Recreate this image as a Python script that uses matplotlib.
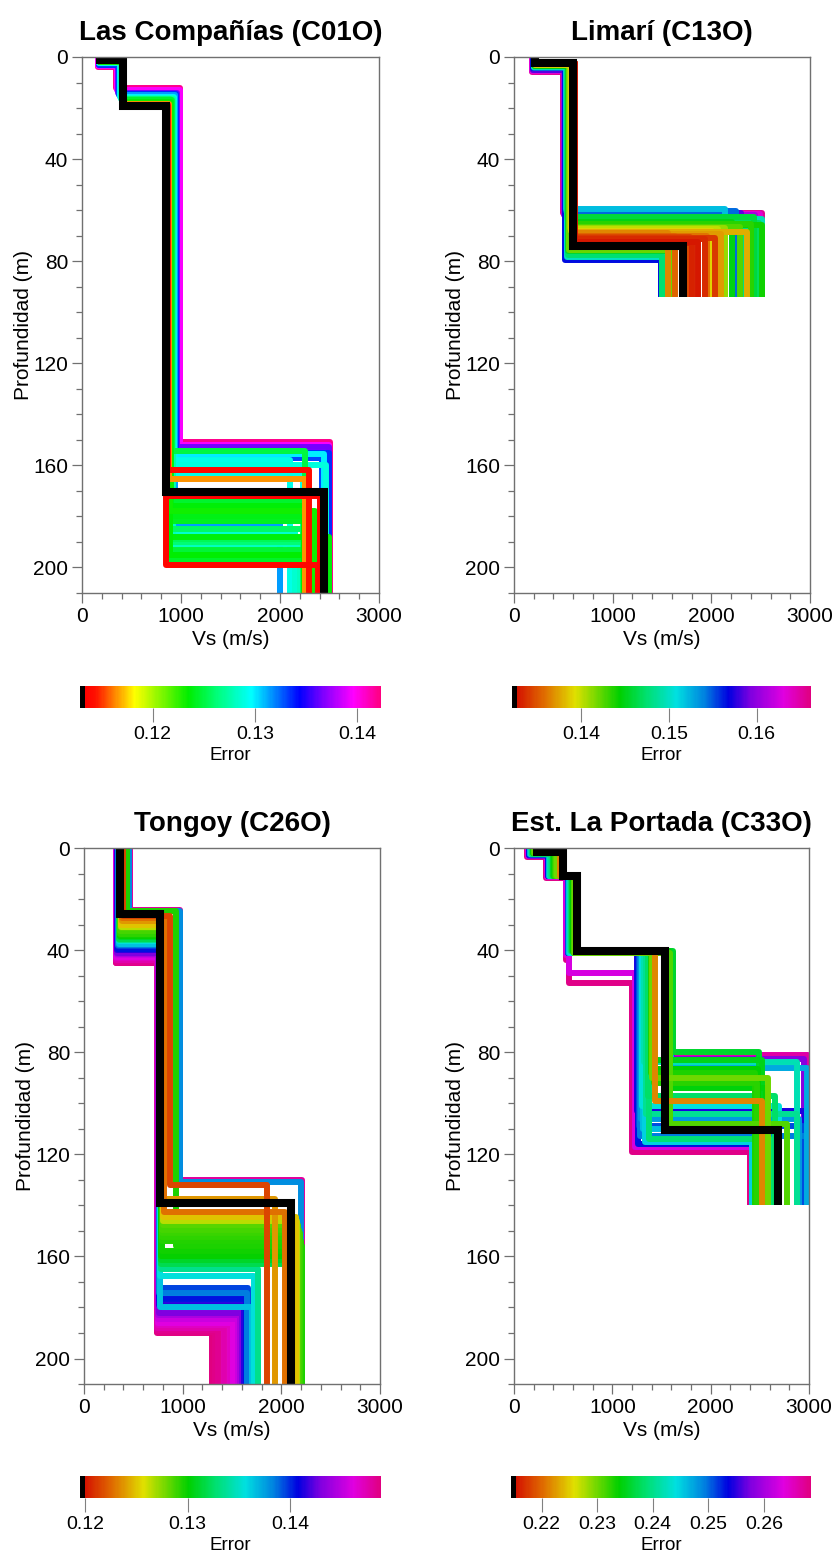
import numpy as np
import matplotlib
matplotlib.use("Agg")
import matplotlib.pyplot as plt
from matplotlib.colors import LinearSegmentedColormap, Normalize
from matplotlib.cm import ScalarMappable
from matplotlib.ticker import MultipleLocator

plt.rcParams["font.family"] = ["Liberation Sans", "DejaVu Sans"]

# ---- Las Compañías (C01O) ----
comp_err = [0.1420, 0.1395, 0.1365, 0.1335, 0.1330, 0.1315, 0.1300, 0.1292, 0.1290,
            0.1288, 0.1285, 0.1280, 0.1275, 0.1268, 0.1262, 0.1258, 0.1255, 0.1250,
            0.1248, 0.1245, 0.1244, 0.1242, 0.1240, 0.1238, 0.1236, 0.1235, 0.1232,
            0.1165, 0.1140, 0.1138, 0.1135]
comp_bottoms = [[3.8, 12.3, 151], [3.5, 13.0, 152], [3.0, 14.0, 153], [3.0, 14.5, 155, 195],
                [2.8, 15.0, 157], [2.5, 15.0, 183], [2.5, 15.5, 155.5], [2.0, 16.0, 163],
                [2.5, 16.0, 158], [2.0, 16.0, 160], [2.0, 16.0, 186], [2.0, 16.5, 191],
                [2.0, 16.5, 176], [2.0, 16.5, 194], [2.0, 16.5, 190], [2.0, 17.0, 185],
                [2.0, 17.0, 189], [2.0, 17.0, 154.5], [2.0, 17.0, 193], [2.0, 17.0, 174],
                [2.0, 17.5, 197], [2.0, 17.5, 182], [1.8, 17.5, 180], [1.8, 17.5, 188],
                [1.8, 17.5, 176], [1.8, 18.0, 195], [1.8, 18.0, 178], [1.5, 18.5, 165.5],
                [1.5, 19.0, 162], [1.5, 19.5, 199], [1.5, 19.5, 172]]
comp_vs = [[160, 345, 990, 2505], [165, 350, 985, 2495], [170, 360, 960, 2490],
           [170, 370, 945, 2490, 2000], [175, 375, 940, 2420], [175, 380, 935, 2000],
           [175, 385, 930, 2440], [180, 390, 920, 2230], [180, 390, 925, 2100],
           [180, 390, 925, 2460], [180, 395, 920, 2150], [180, 395, 920, 2200],
           [180, 400, 915, 2230], [180, 400, 885, 2230], [185, 400, 890, 2480],
           [185, 400, 880, 2230], [185, 400, 875, 2260], [185, 400, 905, 2250],
           [185, 405, 870, 2240], [185, 405, 900, 2260], [185, 405, 870, 2250],
           [185, 405, 875, 2330], [185, 405, 895, 2240], [185, 410, 890, 2500],
           [185, 410, 880, 2245], [185, 410, 890, 2250], [185, 410, 885, 2350],
           [185, 415, 880, 2250], [180, 420, 870, 2290], [180, 425, 845, 2380],
           [180, 425, 845, 2400]]
comp_best_bottoms = [1.2, 19.3, 170.5]
comp_best_vs = [180, 415, 850, 2440]

# ---- Limarí (C13O) ----
lim_err = [0.1655, 0.1635, 0.1610, 0.1585, 0.1565, 0.1545, 0.1520, 0.1500, 0.1495,
           0.1480, 0.1475, 0.1470, 0.1460, 0.1458, 0.1450, 0.1440, 0.1435, 0.1425,
           0.1420, 0.1410, 0.1400, 0.1390, 0.1378, 0.1372, 0.1365, 0.1360, 0.1355,
           0.1345, 0.1340, 0.1335, 0.1332, 0.1328]
lim_bottoms = [[5.7, 61.0], [5.5, 61.5], [5.0, 62.0], [5.0, 61.0], [4.5, 79.5], [4.5, 60.5],
               [4.0, 59.5], [4.0, 78.5], [4.0, 63.5], [3.5, 63.0], [3.5, 77.5], [3.5, 65.0],
               [3.5, 62.5], [3.5, 76.0], [3.5, 64.5], [3.0, 66.0], [3.0, 65.5], [3.0, 66.5],
               [3.0, 75.5], [3.0, 67.0], [3.0, 67.5], [3.0, 68.0], [2.5, 68.5], [2.5, 69.5],
               [2.5, 69.0], [2.5, 70.2], [2.5, 70.0], [2.5, 70.5], [2.5, 71.0], [2.5, 71.5],
               [2.5, 73.0], [2.5, 72.5]]
lim_vs = [[180, 500, 2510], [185, 505, 2490], [190, 510, 2440], [195, 515, 2300],
          [195, 520, 1490], [200, 525, 2250], [205, 530, 2140], [205, 535, 1520],
          [205, 540, 2510], [210, 540, 2350], [210, 545, 1500], [210, 548, 2480],
          [210, 550, 2430], [210, 550, 1620], [210, 555, 2210], [215, 560, 2510],
          [215, 560, 2400], [215, 565, 2290], [215, 560, 1580], [215, 570, 2140],
          [220, 575, 2070], [220, 580, 2005], [220, 585, 2360], [220, 588, 2100],
          [220, 590, 1560], [220, 595, 1960], [220, 600, 1630], [215, 610, 1785],
          [215, 610, 2040], [215, 615, 1936], [215, 616, 1800], [215, 618, 1866]]
lim_best_bottoms = [2.5, 74.2]
lim_best_vs = [213, 595, 1710]

# ---- Tongoy (C26O) ----
ton_err = [0.1488, 0.1486, 0.1484, 0.1480, 0.1476, 0.1470, 0.1462, 0.1455, 0.1445,
           0.1430, 0.1415, 0.1405, 0.1395, 0.1385, 0.1380, 0.1365, 0.1355, 0.1335,
           0.1320, 0.1310, 0.1300, 0.1298, 0.1296, 0.1294, 0.1292, 0.1290, 0.1288,
           0.1284, 0.1265, 0.1250, 0.1238, 0.1228, 0.1215]
ton_bottoms = [[45, 190], [45, 189.5], [44.5, 189], [24.2, 130], [44, 188], [43, 187],
               [42.5, 186], [42, 184.5], [41.5, 183], [41, 182], [40, 179], [39.5, 176.5],
               [38.5, 172.5], [38, 174.5], [24.5, 131], [37.5, 180], [36.5, 167.5],
               [36, 165], [35.5, 163], [35, 161.5], [34.5, 160], [34, 158], [24.8, 156],
               [33, 154], [33.5, 152.5], [32, 151], [32.5, 149.5], [31.5, 147.5], [31, 146],
               [30, 144.5], [28.5, 137.5], [27.5, 142.7], [26.5, 132]]
ton_vs = [[320, 738, 1300], [321, 739, 1330], [322, 740, 1360], [465, 975, 2210],
          [325, 742, 1420], [328, 745, 1480], [329, 747, 1515], [330, 750, 1560],
          [332, 752, 1580], [335, 755, 1600], [338, 758, 1620], [340, 760, 1640],
          [345, 765, 1660], [348, 762, 1650], [460, 970, 2200], [350, 770, 1700],
          [355, 775, 1720], [356, 778, 1760], [358, 780, 2200], [360, 782, 2205],
          [360, 785, 2210], [362, 788, 2200], [440, 930, 2205], [366, 792, 2195],
          [365, 790, 2190], [368, 795, 2185], [368, 795, 2180], [370, 798, 2170],
          [372, 800, 2160], [375, 805, 2150], [380, 810, 1940], [385, 815, 2040],
          [400, 873, 1850]]
ton_best_bottoms = [25.8, 139]
ton_best_vs = [365, 770, 2100]

# ---- Est. La Portada (C33O) ----
por_err = [0.2680, 0.2665, 0.2630, 0.2580, 0.2545, 0.2530, 0.2510, 0.2495, 0.2480,
           0.2470, 0.2460, 0.2450, 0.2440, 0.2420, 0.2405, 0.2390, 0.2385, 0.2360,
           0.2350, 0.2345, 0.2340, 0.2330, 0.2325, 0.2310, 0.2300, 0.2215]
por_bottoms = [[3.4, 11.7, 44, 53, 119], [3.2, 11.5, 41, 81], [3.0, 11.3, 42, 49, 117],
               [3.0, 11.0, 41, 82.5], [2.8, 11.0, 41, 103], [2.8, 11.0, 41, 116],
               [2.6, 11.0, 41, 109], [2.5, 11.0, 41, 113], [2.5, 11.0, 41, 106],
               [2.5, 11.0, 40.5, 86], [2.5, 11.0, 41, 110], [2.5, 11.0, 41, 115],
               [2.4, 11.0, 41, 101], [2.3, 11.0, 40.5, 84], [2.3, 11.0, 40.5, 104],
               [2.2, 11.0, 40.5, 114], [2.2, 11.0, 40.5, 97], [2.0, 11.0, 40.5, 80],
               [2.0, 11.0, 40.5, 83], [2.0, 11.0, 40.5, 94], [2.0, 11.0, 40.5, 86.5],
               [2.0, 11.0, 41, 88], [2.0, 11.0, 41, 92], [2.0, 11.0, 41, 108],
               [2.0, 11.0, 41, 90], [1.8, 11.0, 40.5, 99]]
por_vs = [[135, 330, 528, 560, 1200, 2400], [140, 335, 535, 1620, 2990],
          [145, 340, 530, 555, 1230, 2420], [150, 345, 545, 1610, 2950],
          [155, 350, 548, 1250, 2960], [155, 350, 550, 1260, 2500],
          [158, 352, 552, 1270, 2940], [160, 355, 555, 1280, 2975],
          [162, 358, 556, 1290, 2900], [165, 360, 560, 1600, 2975],
          [168, 362, 562, 1310, 2450], [170, 365, 565, 1330, 2420],
          [172, 368, 566, 1300, 2700], [175, 370, 570, 1320, 2880],
          [180, 380, 575, 1340, 2880], [185, 390, 580, 1370, 2600],
          [185, 395, 585, 1360, 2650], [190, 400, 590, 1620, 2490],
          [192, 405, 595, 1400, 2520], [195, 410, 600, 1580, 2560],
          [196, 412, 602, 1410, 2480], [200, 420, 610, 1390, 2450],
          [200, 420, 612, 1420, 2470], [205, 430, 615, 1590, 2775],
          [210, 440, 620, 1400, 2580], [220, 470, 630, 1434, 2520]]
por_best_bottoms = [1.7, 10.9, 40.5, 110.4]
por_best_vs = [237, 495, 644, 1536, 2688]

titles = ["Las Compañías (C01O)", "Limarí (C13O)", "Tongoy (C26O)", "Est. La Portada (C33O)"]
max_depths = [210, 94, 210, 140]
err_ranges = [(0.1129, 0.1423), (0.1321, 0.1662), (0.1195, 0.1489), (0.2145, 0.2685)]
cbar_ticks = [[0.12, 0.13, 0.14], [0.14, 0.15, 0.16], [0.12, 0.13, 0.14],
              [0.22, 0.23, 0.24, 0.25, 0.26]]

# colour scales (black sliver marks the best model)
bright = LinearSegmentedColormap.from_list("bright", [
    (0.0, "#000000"), (0.012, "#000000"), (0.013, "#ff0000"), (0.05, "#ff1000"),
    (0.18, "#ffff00"), (0.36, "#00ee00"), (0.46, "#00ff80"), (0.57, "#00ffff"),
    (0.73, "#0000ff"), (0.81, "#8000ff"), (0.91, "#ff00ff"), (1.0, "#ff0080")])
dark = LinearSegmentedColormap.from_list("dark", [
    (0.0, "#000000"), (0.012, "#000000"), (0.013, "#d41000"), (0.11, "#e07000"),
    (0.21, "#e0e000"), (0.36, "#00d000"), (0.45, "#00e070"), (0.55, "#00e0e0"),
    (0.645, "#0080e0"), (0.725, "#0000e0"), (0.80, "#8000e0"), (0.91, "#e000e0"),
    (1.0, "#e00080")])
cmaps = [bright, dark, dark, dark]

panels = [
    (comp_err, comp_bottoms, comp_vs, comp_best_bottoms, comp_best_vs),
    (lim_err, lim_bottoms, lim_vs, lim_best_bottoms, lim_best_vs),
    (ton_err, ton_bottoms, ton_vs, ton_best_bottoms, ton_best_vs),
    (por_err, por_bottoms, por_vs, por_best_bottoms, por_best_vs),
]


def step_profile(bottoms, vs, zmax):
    z = [0.0]
    v = [vs[0]]
    for i, b in enumerate(bottoms):
        z += [b, b]
        v += [vs[i], vs[i + 1]]
    z.append(zmax)
    v.append(vs[-1])
    return v, z


fig = plt.figure(figsize=(8.37, 15.53), dpi=100)

ax_rects = [[0.098, 0.6182, 0.3548, 0.3451], [0.6141, 0.6182, 0.3536, 0.3451],
            [0.1004, 0.1088, 0.3536, 0.3451], [0.6141, 0.1088, 0.3524, 0.3451]]
cb_rects = [[0.0956, 0.5441, 0.3596, 0.0142], [0.6117, 0.5441, 0.3572, 0.0142],
            [0.0956, 0.0354, 0.3596, 0.0142], [0.6105, 0.0354, 0.3584, 0.0142]]

for k in range(4):
    err, bottoms, vs, best_b, best_v = panels[k]
    ax = fig.add_axes(ax_rects[k])
    norm = Normalize(*err_ranges[k])
    cmap = cmaps[k]

    # worst models first, best on top
    for i in np.argsort(err)[::-1]:
        v, z = step_profile(bottoms[i], vs[i], max_depths[k])
        ax.plot(v, z, color=cmap(norm(err[i])), lw=4.3,
                solid_capstyle="butt", solid_joinstyle="round")
    v, z = step_profile(best_b, best_v, max_depths[k])
    ax.plot(v, z, color="black", lw=5.8, solid_capstyle="butt", solid_joinstyle="miter")

    ax.set_xlim(0, 3000)
    ax.set_ylim(210, 0)
    ax.set_xticks([0, 1000, 2000, 3000])
    ax.xaxis.set_minor_locator(MultipleLocator(200))
    ax.set_yticks([0, 40, 80, 120, 160, 200])
    ax.yaxis.set_minor_locator(MultipleLocator(10))
    ax.tick_params(which="major", length=7, width=0.9, color="#707070", labelsize=15, pad=3)
    ax.tick_params(which="minor", length=4, width=0.9, color="#707070")
    for s in ax.spines.values():
        s.set_color("#707070")
        s.set_linewidth(1.0)
    ax.set_xlabel("Vs (m/s)", fontsize=15, labelpad=3)
    ax.set_ylabel("Profundidad (m)", fontsize=15, labelpad=0)
    ax.set_title(titles[k], fontsize=20, fontweight="bold", pad=12)

    cax = fig.add_axes(cb_rects[k])
    cb = fig.colorbar(ScalarMappable(norm=norm, cmap=cmap), cax=cax, orientation="horizontal")
    cb.outline.set_visible(False)
    cb.set_ticks(cbar_ticks[k], labels=["%.2f" % t for t in cbar_ticks[k]],
                 fontsize=14, fontfamily=["Liberation Sans Narrow", "Liberation Sans"])
    cax.tick_params(length=10, width=0.8, color="#808080", pad=3)
    cb.set_label("Error", fontsize=13.5, labelpad=3)

fig.savefig("out.png", dpi=100)
